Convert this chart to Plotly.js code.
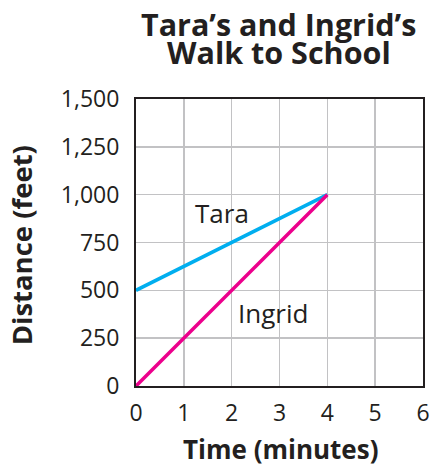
<!DOCTYPE html>
<html><head><meta charset="utf-8">
<script src="https://cdn.plot.ly/plotly-3.0.1.min.js"></script>
<style>body{margin:0;background:#fff}#c{width:432px;height:468px}</style>
</head><body><div id="c"></div>
<script>
const timeMinutes = [0, 4];
const taraDistance = [500, 1000];
const ingridDistance = [0, 1000];
const xTicks = [0, 1, 2, 3, 4, 5, 6];
const yTicks = [0, 250, 500, 750, 1000, 1250, 1500];
const yTickLabels = ['0', '250', '500', '750', '1,000', '1,250', '1,500'];
const titleLines = ['Tara’s and Ingrid’s', 'Walk to School'];
const xTitle = 'Time (minutes)';
const yTitle = 'Distance (feet)';
const seriesLabels = [
  {name: 'Tara', x: 1.8, y: 905},
  {name: 'Ingrid', x: 2.86, y: 380}
];

const font = '"Open Sans", "Noto Sans", sans-serif';
const dark = '#231f20';

const traces = [
  {x: timeMinutes, y: taraDistance, mode: 'lines', line: {color: '#00aeef', width: 3.5}, hoverinfo: 'skip'},
  {x: timeMinutes, y: ingridDistance, mode: 'lines', line: {color: '#ec008c', width: 3.5}, hoverinfo: 'skip'}
];

const annotations = seriesLabels.map(s => ({x: s.x, y: s.y, xref: 'x', yref: 'y', text: s.name, showarrow: false,
    font: {family: font, size: 26, color: dark}}));
titleLines.forEach((t, i) => annotations.push({
  x: 0.497, xref: 'paper', xanchor: 'center', y: 1 + (99 - (23.5 + i * 28.5)) / 287, yref: 'paper', yanchor: 'middle',
  text: '<b>' + t + '</b>', showarrow: false, borderpad: 0, font: {family: font, size: 30.5, color: dark}}));
annotations.push({x: 0.502, xref: 'paper', xanchor: 'center', y: -82 / 287, yref: 'paper', yanchor: 'bottom',
  text: '<b>' + xTitle + '</b>', showarrow: false, borderpad: 0, font: {family: font, size: 26, color: dark}});
annotations.push({x: (21 - 136) / 287, xref: 'paper', xanchor: 'center', y: 0.49, yref: 'paper', yanchor: 'middle',
  text: '<b>' + yTitle + '</b>', textangle: -90, showarrow: false, borderpad: 0, font: {family: font, size: 27.5, color: dark}});

const layout = {
  width: 432, height: 468,
  margin: {l: 136, r: 9, t: 99, b: 82},
  paper_bgcolor: '#fff', plot_bgcolor: '#fff',
  showlegend: false,
  xaxis: {range: [0, 6], tickvals: xTicks, ticktext: xTicks.map(String), showgrid: true, gridcolor: '#c2c2c4', gridwidth: 1.5,
          zeroline: false, showline: true, linecolor: dark, linewidth: 2, mirror: true,
          ticks: 'outside', ticklen: 5, tickcolor: 'rgba(0,0,0,0)',
          tickfont: {family: font, size: 23, color: dark}, fixedrange: true},
  yaxis: {range: [0, 1500], tickvals: yTicks, ticktext: yTickLabels, showgrid: true, gridcolor: '#c2c2c4', gridwidth: 1.5,
          zeroline: false, showline: true, linecolor: dark, linewidth: 2, mirror: true,
          ticks: 'outside', ticklen: 10, tickcolor: 'rgba(0,0,0,0)',
          tickfont: {family: font, size: 23, color: dark}, fixedrange: true},
  annotations: annotations
};

Plotly.newPlot('c', traces, layout, {displayModeBar: false, staticPlot: true});
</script></body></html>
